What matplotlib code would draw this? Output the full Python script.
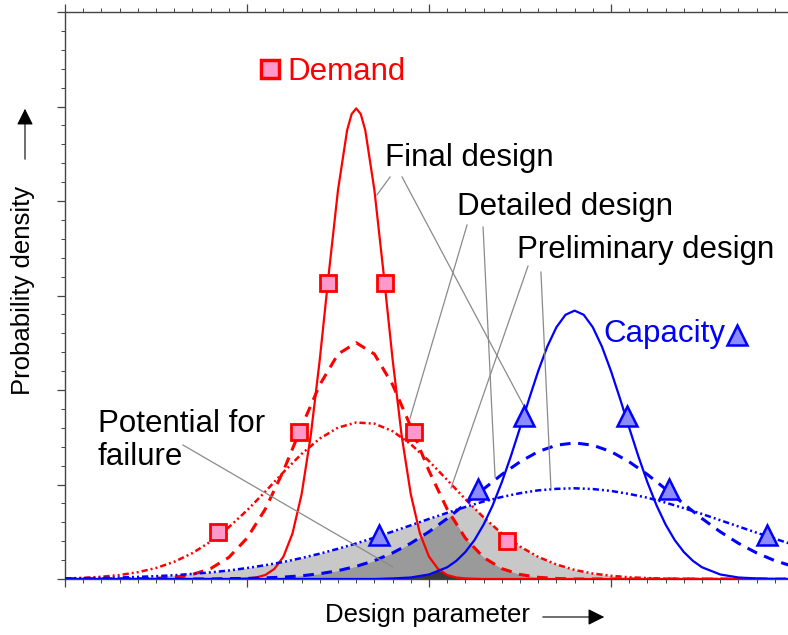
import numpy as np
import matplotlib.pyplot as plt
from matplotlib.ticker import MultipleLocator

plt.rcParams['font.family'] = ['Liberation Sans', 'DejaVu Sans']

# Design parameter grid (1 unit = one minor tick)
x_wide = list(range(0, 41))
x_demand_final = [0, 9, 10, 10.5, 11, 11.5, 12, 12.5, 13, 13.5, 14, 14.5, 15, 15.5, 15.75, 16,
                  16.25, 16.5, 17, 17.5, 18, 18.5, 19, 19.5, 20, 20.5, 21, 21.5, 22, 23, 40]
x_capacity_final = [0, 17, 18, 19, 20, 21, 21.5, 22, 22.5, 23, 23.5, 24, 24.5, 25, 25.5, 26, 26.5,
                    27, 27.5, 28, 28.5, 29, 29.5, 30, 30.5, 31, 31.5, 32, 32.5, 33, 33.5, 34,
                    34.5, 35, 36, 37, 38, 39, 40]

# Demand curves (red)
demand_final = [0, 0, 0.03, 0.08, 0.21, 0.53, 1.18, 2.41, 4.48, 7.57, 11.62, 16.22, 20.58, 23.74, 24.6,
                24.9, 24.6, 23.74, 20.58, 16.22, 11.62, 7.57, 4.48, 2.41, 1.18, 0.53, 0.21, 0.08,
                0.03, 0, 0]
demand_detailed = [0, 0, 0, 0, 0, 0.03, 0.09, 0.24, 0.55, 1.14, 2.16, 3.69, 5.72, 8.06, 10.28, 11.9,
                   12.5, 11.9, 10.28, 8.06, 5.72, 3.69, 2.16, 1.14, 0.55, 0.24, 0.09, 0.03,
                   0, 0, 0, 0, 0, 0, 0, 0, 0, 0, 0, 0, 0]
demand_prelim = [0.03, 0.06, 0.12, 0.21, 0.36, 0.58, 0.91, 1.37, 1.98, 2.74, 3.63, 4.62, 5.65, 6.62,
                 7.43, 8.01, 8.28, 8.22, 7.82, 7.13, 6.24, 5.24, 4.22, 3.26, 2.41, 1.72, 1.17, 0.77,
                 0.48, 0.29, 0.17, 0.09, 0.05, 0.02, 0.01, 0, 0, 0, 0, 0, 0]

# Capacity curves (blue)
capacity_final = [0, 0, 0.03, 0.08, 0.24, 0.62, 0.96, 1.43, 2.06, 2.88, 3.9, 5.12, 6.5, 8.0, 9.53,
                  11.0, 12.3, 13.32, 13.98, 14.2, 13.98, 13.32, 12.3, 11.0, 9.53, 8.0, 6.5, 5.12,
                  3.9, 2.88, 2.06, 1.43, 0.96, 0.62, 0.24, 0.08, 0.03, 0, 0]
capacity_detailed = [0, 0, 0, 0, 0, 0, 0, 0, 0, 0.02, 0.03, 0.06, 0.1, 0.17, 0.28, 0.44, 0.67, 0.97,
                     1.38, 1.89, 2.5, 3.2, 3.97, 4.76, 5.53, 6.2, 6.74, 7.08, 7.2, 7.08, 6.74, 6.2,
                     5.53, 4.76, 3.97, 3.2, 2.5, 1.89, 1.38, 0.97, 0.67]
capacity_prelim = [0.03, 0.04, 0.06, 0.08, 0.11, 0.15, 0.2, 0.27, 0.35, 0.45, 0.58, 0.73, 0.9, 1.11,
                   1.34, 1.6, 1.88, 2.19, 2.51, 2.84, 3.18, 3.5, 3.81, 4.1, 4.34, 4.54, 4.69, 4.77,
                   4.8, 4.76, 4.66, 4.5, 4.3, 4.04, 3.75, 3.44, 3.11, 2.78, 2.45, 2.13, 1.82]

# marker points
demand_mx = [8.41, 12.86, 14.45, 17.58, 19.18, 24.29]
demand_my = [2.49, 7.78, 15.66, 15.66, 7.78, 2.01]
capacity_mx = [17.25, 22.69, 25.22, 30.88, 33.19, 38.57]
capacity_my = [2.33, 4.76, 8.62, 8.62, 4.76, 2.33]

red = '#ff0000'
blue = '#0000ff'
pink = '#ff99cc'
lblue = '#8c8cff'
dashdotdot = (0, (2.5, 1.2, 0.8, 1.2, 0.8, 1.2))

fig = plt.figure(figsize=(7.88, 6.35), dpi=100)
ax = fig.add_axes([65 / 788, 56 / 635, 728 / 788, 567 / 635])
ax.set_xlim(0, 40)
ax.set_ylim(0, 30)

# shaded overlap regions (min of demand and capacity)
xf = np.linspace(0, 40, 1601)
pairs = [(x_wide, demand_prelim, x_wide, capacity_prelim, '#c8c8c8'),
         (x_wide, demand_detailed, x_wide, capacity_detailed, '#9a9a9a'),
         (x_demand_final, demand_final, x_capacity_final, capacity_final, '#3a3a3a')]
for xd, yd, xc, yc, col in pairs:
    lo = np.minimum(np.interp(xf, xd, yd), np.interp(xf, xc, yc))
    ax.fill_between(xf, 0, lo, color=col, lw=0, zorder=1)

ax.plot(x_wide, demand_prelim, color=red, lw=1.8, ls=dashdotdot, zorder=3)
ax.plot(x_wide, demand_detailed, color=red, lw=2.2, ls=(0, (3.5, 2.5)), zorder=3)
ax.plot(x_demand_final, demand_final, color=red, lw=1.6, zorder=3)
ax.plot(x_wide, capacity_prelim, color=blue, lw=1.8, ls=dashdotdot, zorder=3)
ax.plot(x_wide, capacity_detailed, color=blue, lw=2.2, ls=(0, (3.5, 2.5)), zorder=3)
ax.plot(x_capacity_final, capacity_final, color=blue, lw=1.6, zorder=3)

ax.plot(demand_mx, demand_my, ls='none', marker='s', ms=12, mfc=pink, mec=red, mew=2, zorder=5)
ax.plot(capacity_mx, capacity_my, ls='none', marker='^', ms=14, mfc=lblue, mec=blue, mew=1.8, zorder=5)

# labels for the two groups
ax.plot([11.26], [26.98], ls='none', marker='s', ms=13, mfc=pink, mec=red, mew=2.5, clip_on=False)
ax.text(12.2, 26.4, 'Demand', color=red, fontsize=22.5, va='baseline')
ax.plot([36.92], [12.91], ls='none', marker='^', ms=14, mfc=lblue, mec=blue, mew=1.8)
ax.text(29.6, 12.54, 'Capacity', color=blue, fontsize=22.5, va='baseline')

# design stage annotations
txt = dict(fontsize=22.5, va='baseline', color='black')
ax.text(17.58, 21.85, 'Final design', **txt)
ax.text(21.54, 19.26, 'Detailed design', **txt)
ax.text(24.84, 16.98, 'Preliminary design', **txt)
# baseline of the last line ("failure")
ax.text(1.81, 6.03, 'Potential for\nfailure', linespacing=1.15, **txt)

leader = [((17.86, 21.27), (17.14, 20.32)),
          ((18.52, 21.27), (25.27, 9.05)),
          ((22.09, 18.73), (18.96, 8.52)),
          ((22.97, 18.62), (23.63, 5.40)),
          ((25.44, 16.56), (21.21, 4.81)),
          ((26.15, 16.24), (26.70, 4.81)),
          ((6.48, 7.09), (18.02, 0.63))]
for (x0, y0), (x1, y1) in leader:
    ax.plot([x0, x1], [y0, y1], color='#8a8a8a', lw=0.9, zorder=4)

# axes frame and ticks
for s in ['top', 'left', 'bottom']:
    ax.spines[s].set_color('#444444')
    ax.spines[s].set_linewidth(1.0)
ax.spines['right'].set_visible(False)
ax.xaxis.set_major_locator(MultipleLocator(10))
ax.xaxis.set_minor_locator(MultipleLocator(1))
ax.yaxis.set_major_locator(MultipleLocator(5))
ax.yaxis.set_minor_locator(MultipleLocator(1))
ax.tick_params(which='both', direction='out', top=True, bottom=True, left=True, right=False,
               labelbottom=False, labelleft=False, colors='#444444')
ax.tick_params(which='major', length=6, width=0.9)
ax.tick_params(which='minor', length=3, width=0.7)

# axis titles with arrows
fig.text(23 / 788, 1 - 290 / 635, 'Probability density', rotation=90, fontsize=18.5,
         ha='center', va='center')
ax.annotate('', xy=(25, 635 - 106), xytext=(25, 635 - 162), xycoords='figure pixels',
            textcoords='figure pixels',
            arrowprops=dict(arrowstyle='-|>', color='black', lw=0.8, mutation_scale=25))
fig.text(325 / 788, (635 - 622) / 635, 'Design parameter', fontsize=18.5, ha='left', va='baseline')
ax.annotate('', xy=(607, 635 - 617), xytext=(540, 635 - 617), xycoords='figure pixels',
            textcoords='figure pixels',
            arrowprops=dict(arrowstyle='-|>', color='black', lw=0.8, mutation_scale=25))

fig.savefig('out.png', dpi=100)
